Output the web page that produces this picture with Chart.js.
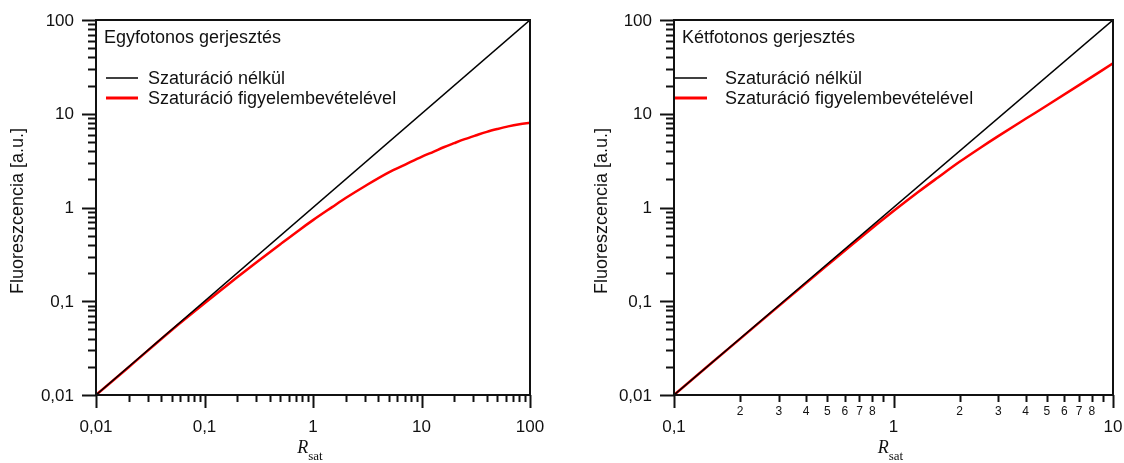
<!DOCTYPE html>
<html>
<head>
<meta charset="utf-8">
<script src="https://cdn.jsdelivr.net/npm/chart.js@4.4.1/dist/chart.umd.min.js"></script>
<style>
  html, body { margin: 0; padding: 0; background: #fff; }
  #wrap { position: relative; width: 1124px; height: 463px; }
  .panel { position: absolute; top: 0; height: 463px; }
</style>
</head>
<body>
<div id="wrap">
  <div class="panel" style="left:0;width:560px"><canvas id="oneChart" width="560" height="463"></canvas></div>
  <div class="panel" style="left:560px;width:564px"><canvas id="twoChart" width="564" height="463"></canvas></div>
</div>
<script>
// Egyfotonos: telítés nélkül (egyenes) és telítéssel
const oneLineX = [0.01, 100];
const oneLineY = [0.01, 100];
const oneSatX = [0.01, 0.02, 0.05, 0.1, 0.2, 0.3, 0.5, 0.75, 1, 1.5, 2, 3, 5, 7, 10, 13, 16, 20, 25, 32, 40, 50, 63, 80, 100];
const oneSatY = [0.01, 0.0198, 0.0494, 0.0951, 0.180, 0.259, 0.406, 0.577, 0.733, 1.009, 1.262, 1.687, 2.37, 2.85, 3.47,
                 3.95, 4.39, 4.86, 5.36, 5.90, 6.41, 6.87, 7.33, 7.72, 8.0];

// Kétfotonos
const twoLineX = [0.1, 10];
const twoLineY = [0.01, 100];
const twoSatX = [0.1, 0.15, 0.2, 0.3, 0.5, 0.7, 1, 1.3, 1.6, 2, 2.5, 3, 4, 5, 7, 10];
const twoSatY = [0.01, 0.02245, 0.0397, 0.0888, 0.243, 0.468, 0.916, 1.472, 2.104, 3.07, 4.37, 5.77, 8.83, 12.25, 20.2, 34.5];

// tengelyfeliratok
const yTickVals = [0.01, 0.1, 1, 10, 100];
const yTickLabels = ['0,01', '0,1', '1', '10', '100'];
const oneXTickVals = [0.01, 0.1, 1, 10, 100];
const oneXTickLabels = ['0,01', '0,1', '1', '10', '100'];
const twoXTickVals = [0.1, 1, 10];
const twoXTickLabels = ['0,1', '1', '10'];
const twoMinorDigits = ['2', '3', '4', '5', '6', '7', '8'];

const seriesNames = ['Szaturáció nélkül', 'Szaturáció figyelembevételével'];
const FONT = '"Liberation Sans", Arial, sans-serif';
const SERIF = '"Liberation Serif", "Times New Roman", serif';

function pts(xs, ys) {
    return xs.map((x, i) => ({ x: x, y: ys[i] }));
}

// 1..9 x 10^n osztások egy log tengelyre
function decadeTicks(min, max) {
    const out = [];
    const e0 = Math.round(Math.log10(min));
    const e1 = Math.round(Math.log10(max));
    for (let e = e0; e < e1; e++) {
        for (let m = 1; m < 10; m++) out.push({ v: m * Math.pow(10, e), major: m === 1 });
    }
    out.push({ v: max, major: true });
    return out;
}

// keret, osztások, feliratok és a belső jelmagyarázat
const frame = {
    id: 'frame',
    afterDraw(chart, args, o) {
        const { ctx, chartArea: a, scales: { x, y } } = chart;
        ctx.save();
        ctx.strokeStyle = '#111';
        ctx.lineWidth = 2;
        ctx.strokeRect(a.left, a.top, a.right - a.left, a.bottom - a.top);

        // y osztások
        decadeTicks(y.min, y.max).forEach(t => {
            const py = Math.round(y.getPixelForValue(t.v)) + 0.5;
            ctx.beginPath();
            ctx.moveTo(a.left - (t.major ? 14 : 8), py);
            ctx.lineTo(a.left, py);
            ctx.stroke();
        });
        // x osztások
        decadeTicks(x.min, x.max).forEach(t => {
            const px = Math.round(x.getPixelForValue(t.v)) + 0.5;
            ctx.beginPath();
            ctx.moveTo(px, a.bottom);
            ctx.lineTo(px, a.bottom + (t.major ? 13 : 7));
            ctx.stroke();
        });

        ctx.fillStyle = '#111';
        ctx.font = '17px ' + FONT;
        ctx.textAlign = 'right';
        ctx.textBaseline = 'middle';
        yTickVals.forEach((v, i) => {
            ctx.fillText(yTickLabels[i], a.left - 22, y.getPixelForValue(v) + 1);
        });

        ctx.textAlign = 'center';
        ctx.textBaseline = 'alphabetic';
        o.xVals.forEach((v, i) => {
            ctx.fillText(o.xLabels[i], x.getPixelForValue(v), 432);
        });
        if (o.minor) {
            ctx.font = '12px ' + FONT;
            [0.1, 1].forEach(dec => {
                twoMinorDigits.forEach(d => {
                    ctx.fillText(d, x.getPixelForValue(Number(d) * dec), 415);
                });
            });
        }

        // y tengely címe
        ctx.save();
        ctx.font = '18px ' + FONT;
        ctx.translate(o.yTitleX, 211);
        ctx.rotate(-Math.PI / 2);
        ctx.textBaseline = 'middle';
        ctx.fillText('Fluoreszcencia [a.u.]', 0, 0);
        ctx.restore();

        // x tengely címe: R_sat
        const cx = (a.left + a.right) / 2 - 3;
        ctx.font = 'italic 18px ' + SERIF;
        const wR = ctx.measureText('R').width;
        ctx.font = '13px ' + SERIF;
        const wS = ctx.measureText('sat').width;
        const x0 = cx - (wR + wS) / 2;
        ctx.textAlign = 'left';
        ctx.font = 'italic 18px ' + SERIF;
        ctx.fillText('R', x0, 453);
        ctx.font = '13px ' + SERIF;
        ctx.fillText('sat', x0 + wR, 460);

        // jelmagyarázat
        ctx.font = '18px ' + FONT;
        ctx.fillText(o.title, o.titleX, 43);
        chart.data.datasets.forEach((ds, i) => {
            const ly = 78 + i * 20;
            ctx.strokeStyle = ds.borderColor;
            ctx.lineWidth = i === 0 ? 1.5 : 3;
            ctx.beginPath();
            ctx.moveTo(o.lineX0, ly);
            ctx.lineTo(o.lineX1, ly);
            ctx.stroke();
            ctx.fillText(ds.label, o.textX, ly + 6);
        });
        ctx.restore();
    }
};

function makeChart(id, lineData, satData, xMin, xMax, yWidth, padRight, frameOpts) {
    return new Chart(document.getElementById(id), {
        type: 'line',
        data: {
            datasets: [
                {
                    label: seriesNames[0],
                    data: lineData,
                    borderColor: '#000000',
                    borderWidth: 1.5,
                    pointRadius: 0
                },
                {
                    label: seriesNames[1],
                    data: satData,
                    borderColor: '#ff0000',
                    borderWidth: 2.5,
                    pointRadius: 0,
                    cubicInterpolationMode: 'monotone'
                }
            ]
        },
        options: {
            responsive: false,
            animation: false,
            layout: { padding: { left: 0, right: padRight, top: 20, bottom: 0 } },
            plugins: {
                legend: { display: false },
                tooltip: { enabled: false },
                frame: frameOpts
            },
            scales: {
                x: {
                    type: 'logarithmic',
                    min: xMin,
                    max: xMax,
                    ticks: { display: false },
                    grid: { display: false },
                    border: { display: false },
                    afterFit: s => { s.height = 68; }
                },
                y: {
                    type: 'logarithmic',
                    min: 0.01,
                    max: 100,
                    ticks: { display: false },
                    grid: { display: false },
                    border: { display: false },
                    afterFit: s => { s.width = yWidth; }
                }
            }
        },
        plugins: [frame]
    });
}

makeChart('oneChart', pts(oneLineX, oneLineY), pts(oneSatX, oneSatY), 0.01, 100, 96, 30, {
    title: 'Egyfotonos gerjesztés',
    titleX: 104, lineX0: 106, lineX1: 138, textX: 148,
    yTitleX: 18,
    xVals: oneXTickVals, xLabels: oneXTickLabels,
    minor: false
});

makeChart('twoChart', pts(twoLineX, twoLineY), pts(twoSatX, twoSatY), 0.1, 10, 114, 11, {
    title: 'Kétfotonos gerjesztés',
    titleX: 122, lineX0: 115, lineX1: 147, textX: 165,
    yTitleX: 42,
    xVals: twoXTickVals, xLabels: twoXTickLabels,
    minor: true
});
</script>
</body>
</html>
